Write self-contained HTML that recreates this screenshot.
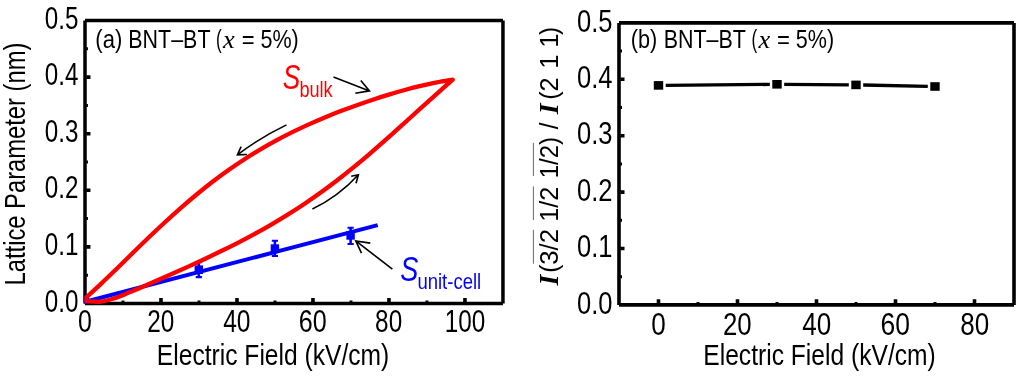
<!DOCTYPE html>
<html><head><meta charset="utf-8"><title>Figure</title>
<style>html,body{margin:0;padding:0;background:#fff;overflow:hidden}svg{display:block;will-change:transform}text{font-family:"Liberation Sans",sans-serif;white-space:pre}.si{font-style:italic}.ti{font-family:"Liberation Serif",serif;font-style:italic}.tbi{font-family:"Liberation Serif",serif;font-style:italic;font-weight:bold}</style>
</head><body>
<svg width="1024" height="377" viewBox="0 0 1024 377">
<rect x="0" y="0" width="1024" height="377" fill="#fff"/>
<g id="left-plot">
<path d="M85.00,20.50 H502.95 M85.00,303.45 H502.95 M85.00,20.50 V303.45 M502.95,20.50 V303.45" fill="none" stroke="#000" stroke-width="3.5"/>
<path d="M160.99,302.20 V297.90 M236.98,302.20 V297.90 M312.97,302.20 V297.90 M388.96,302.20 V297.90 M464.95,302.20 V297.90 M86.25,246.86 H90.45 M86.25,190.27 H90.45 M86.25,133.68 H90.45 M86.25,77.09 H90.45 " fill="none" stroke="#000" stroke-width="3.6"/>
<path d="M123.00,302.20 V300.50 M198.99,302.20 V300.50 M274.98,302.20 V300.50 M350.97,302.20 V300.50 M426.96,302.20 V300.50 M86.25,275.15 H87.95 M86.25,218.56 H87.95 M86.25,161.97 H87.95 M86.25,105.39 H87.95 M86.25,48.79 H87.95 " fill="none" stroke="#000" stroke-width="3.0"/>
<clipPath id="cl"><rect x="84.4" y="0" width="430" height="377"/></clipPath>
<g clip-path="url(#cl)">
<line x1="80.0" y1="303.22" x2="377.7" y2="225.10" stroke="#0000ff" stroke-width="4.0"/>
<rect x="80.8" y="295.2" width="8.4" height="8.4" fill="#0000ff"/>
<path d="M198.8,262.3 V277.1" fill="none" stroke="#0000ff" stroke-width="2.6"/>
<path d="M195.70,262.3 H201.90 M195.70,277.1 H201.90" fill="none" stroke="#0000ff" stroke-width="2.1"/>
<rect x="194.60" y="265.40" width="8.4" height="8.6" fill="#0000ff"/>
<path d="M274.9,240.7 V256.0" fill="none" stroke="#0000ff" stroke-width="2.6"/>
<path d="M271.80,240.7 H278.00 M271.80,256.0 H278.00" fill="none" stroke="#0000ff" stroke-width="2.1"/>
<rect x="270.70" y="244.30" width="8.4" height="8.6" fill="#0000ff"/>
<path d="M350.6,227.7 V244.0" fill="none" stroke="#0000ff" stroke-width="2.6"/>
<path d="M347.50,227.7 H353.70 M347.50,244.0 H353.70" fill="none" stroke="#0000ff" stroke-width="2.1"/>
<rect x="346.40" y="231.10" width="8.4" height="8.6" fill="#0000ff"/>
<path d="M81.60,300.90 C82.17,300.93 83.27,301.00 85.00,301.10 C86.73,301.20 89.33,301.42 92.00,301.50 C94.67,301.58 97.67,302.02 101.00,301.60 C104.33,301.18 108.37,300.08 112.00,299.00 C115.63,297.92 118.25,296.93 122.80,295.13 C127.35,293.33 133.80,290.55 139.29,288.21 C144.79,285.87 150.29,283.49 155.79,281.09 C161.29,278.68 166.79,276.26 172.28,273.80 C177.78,271.35 183.28,268.87 188.78,266.36 C194.28,263.84 199.78,261.31 205.27,258.71 C210.77,256.12 216.27,253.50 221.77,250.81 C227.27,248.11 232.77,245.37 238.26,242.54 C243.76,239.71 249.26,236.82 254.76,233.82 C260.26,230.83 265.76,227.75 271.25,224.55 C276.75,221.35 282.25,218.06 287.75,214.63 C293.25,211.19 298.75,207.65 304.24,203.97 C309.74,200.28 315.24,196.47 320.74,192.52 C326.24,188.56 331.74,184.47 337.23,180.25 C342.73,176.02 348.23,171.66 353.73,167.18 C359.23,162.70 364.73,158.08 370.22,153.37 C375.72,148.67 381.22,143.83 386.72,138.95 C392.22,134.08 397.72,129.08 403.21,124.11 C408.71,119.14 414.21,114.08 419.71,109.12 C425.21,104.15 430.71,99.24 436.20,94.32 C441.70,89.40 449.95,82.05 452.70,79.60 L452.70,79.60 C450.04,80.08 442.04,81.41 436.71,82.47 C431.38,83.53 426.06,84.68 420.73,85.95 C415.40,87.21 410.07,88.60 404.74,90.05 C399.41,91.50 394.08,93.05 388.75,94.66 C383.42,96.27 378.09,97.96 372.77,99.71 C367.44,101.46 362.11,103.28 356.78,105.17 C351.45,107.07 346.12,109.02 340.79,111.07 C335.46,113.11 330.13,115.22 324.80,117.43 C319.48,119.65 314.15,121.94 308.82,124.34 C303.49,126.75 298.16,129.24 292.83,131.87 C287.50,134.49 282.17,137.22 276.84,140.10 C271.51,142.97 266.19,145.97 260.86,149.12 C255.53,152.27 250.20,155.55 244.87,159.00 C239.54,162.45 234.21,166.04 228.88,169.80 C223.55,173.56 218.22,177.48 212.90,181.55 C207.57,185.63 202.24,189.87 196.91,194.25 C191.58,198.63 186.25,203.18 180.92,207.85 C175.59,212.51 170.26,217.34 164.93,222.25 C159.61,227.16 154.28,232.21 148.95,237.31 C143.62,242.40 138.29,247.61 132.96,252.80 C127.63,257.98 122.30,263.26 116.97,268.43 C111.64,273.60 106.32,278.81 100.99,283.83 C95.66,288.85 88.23,295.58 85.00,298.54 C81.77,301.50 82.17,301.09 81.60,301.60" fill="none" stroke="#ff0000" stroke-width="4.3" stroke-linecap="butt" stroke-linejoin="round"/>
</g>
<path d="M333.5,76.9 L369.5,90.9 M360.8,80.5 L369.5,90.9 L355.3,93.3" fill="none" stroke="#000" stroke-width="1.6"/>
<path d="M286.5,124.9 Q259.3,138.0 237.4,154.9 M241.1,146.6 L237.4,154.9 L246.9,154.5" fill="none" stroke="#000" stroke-width="1.6"/>
<path d="M312.4,209 Q338.6,196.3 358.4,174.7 M351.2,176.2 L358.4,174.7 L356,183.3" fill="none" stroke="#000" stroke-width="1.6"/>
<path d="M392.4,269.2 L355.8,240.9 M370.3,243.1 L355.8,240.9 L361.5,253.2" fill="none" stroke="#000" stroke-width="1.6"/>
<text transform="translate(44.73,311.60) scale(0.7857,1)" font-size="30.8">0.0</text>
<text transform="translate(44.73,255.01) scale(0.7857,1)" font-size="30.8">0.1</text>
<text transform="translate(44.73,198.42) scale(0.7857,1)" font-size="30.8">0.2</text>
<text transform="translate(44.73,141.83) scale(0.7857,1)" font-size="30.8">0.3</text>
<text transform="translate(44.73,85.24) scale(0.7857,1)" font-size="30.8">0.4</text>
<text transform="translate(44.73,28.65) scale(0.7857,1)" font-size="30.8">0.5</text>
<text transform="translate(78.10,331.85) scale(0.8091,1)" font-size="30.8" fill="#000" >0</text>
<text transform="translate(147.13,331.85) scale(0.7907,1)" font-size="30.8" fill="#000" >20</text>
<text transform="translate(223.15,331.85) scale(0.7978,1)" font-size="30.8" fill="#000" >40</text>
<text transform="translate(298.70,331.85) scale(0.8145,1)" font-size="30.8" fill="#000" >60</text>
<text transform="translate(375.12,331.85) scale(0.7896,1)" font-size="30.8" fill="#000" >80</text>
<text transform="translate(444.68,331.85) scale(0.7892,1)" font-size="30.8" fill="#000" >100</text>
<text transform="translate(156.87,365.30) scale(0.8343,1)" font-size="29.5" fill="#000" >Electric Field (kV/cm)</text>
<text transform="translate(25.20,285.46) rotate(-90) scale(0.7920,1)" font-size="30" fill="#000" >Lattice Parameter (nm)</text>
<text transform="translate(95.32,47.70) scale(0.8647,1)" font-size="25.5" fill="#000" >(a)</text>
<text transform="translate(128.33,47.70) scale(0.8406,1)" font-size="25.5" fill="#000" >BNT–BT</text>
<text transform="translate(216.03,47.70) scale(0.6723,1)" font-size="25.5" fill="#000" >(</text>
<text transform="translate(223.03,47.70) scale(1.0370,1)" font-size="25.5" fill="#000" class="ti">x</text>
<text transform="translate(241.70,47.70) scale(0.8652,1)" font-size="25.5" fill="#000" >=</text>
<text transform="translate(260.44,47.70) scale(0.8452,1)" font-size="25.5" fill="#000" >5%)</text>
<text transform="translate(282.68,88.80) scale(0.7666,1)" font-size="34.3" fill="#ff0000" class="si">S</text>
<text transform="translate(299.42,97.10) scale(0.8243,1)" font-size="22" fill="#ff0000" >bulk</text>
<text transform="translate(400.15,281.00) scale(0.7898,1)" font-size="34.3" fill="#0000ff" class="si">S</text>
<text transform="translate(417.40,288.70) scale(0.8419,1)" font-size="22" fill="#0000ff" >unit-cell</text>
</g>
<g id="right-plot">
<line x1="665.70" y1="85.33" x2="769.80" y2="84.37" stroke="#000" stroke-width="3.4"/>
<line x1="784.20" y1="84.35" x2="848.80" y2="84.85" stroke="#000" stroke-width="3.4"/>
<line x1="863.20" y1="85.05" x2="927.80" y2="86.35" stroke="#000" stroke-width="3.4"/>
<rect x="653.80" y="81.10" width="9.4" height="8.6" fill="#000"/>
<rect x="772.30" y="80.00" width="9.4" height="8.6" fill="#000"/>
<rect x="851.30" y="80.60" width="9.4" height="8.6" fill="#000"/>
<rect x="930.30" y="82.20" width="9.4" height="8.6" fill="#000"/>
<path d="M619.00,22.90 H1014.00 M619.00,304.90 H1014.00 M619.00,22.90 V304.90 M1014.00,22.90 V304.90" fill="none" stroke="#000" stroke-width="3.6"/>
<path d="M658.50,303.60 V299.30 M737.50,303.60 V299.30 M816.50,303.60 V299.30 M895.50,303.60 V299.30 M974.50,303.60 V299.30 M620.30,248.50 H624.50 M620.30,192.10 H624.50 M620.30,135.70 H624.50 M620.30,79.30 H624.50 " fill="none" stroke="#000" stroke-width="3.6"/>
<path d="M698.00,303.60 V301.90 M777.00,303.60 V301.90 M856.00,303.60 V301.90 M935.00,303.60 V301.90 M620.30,276.70 H622.00 M620.30,220.30 H622.00 M620.30,163.90 H622.00 M620.30,107.50 H622.00 M620.30,51.10 H622.00 " fill="none" stroke="#000" stroke-width="3.0"/>
<text transform="translate(577.08,313.50) scale(0.8210,1)" font-size="31.1">0.0</text>
<text transform="translate(577.08,257.10) scale(0.8210,1)" font-size="31.1">0.1</text>
<text transform="translate(577.08,200.70) scale(0.8210,1)" font-size="31.1">0.2</text>
<text transform="translate(577.08,144.30) scale(0.8210,1)" font-size="31.1">0.3</text>
<text transform="translate(577.08,87.90) scale(0.8210,1)" font-size="31.1">0.4</text>
<text transform="translate(577.08,31.50) scale(0.8210,1)" font-size="31.1">0.5</text>
<text transform="translate(651.36,334.70) scale(0.8384,1)" font-size="31.1" fill="#000" >0</text>
<text transform="translate(723.01,334.70) scale(0.8302,1)" font-size="31.1" fill="#000" >20</text>
<text transform="translate(802.21,334.70) scale(0.8375,1)" font-size="31.1" fill="#000" >40</text>
<text transform="translate(880.62,334.70) scale(0.8522,1)" font-size="31.1" fill="#000" >60</text>
<text transform="translate(960.19,334.70) scale(0.8366,1)" font-size="31.1" fill="#000" >80</text>
<text transform="translate(703.27,365.30) scale(0.8351,1)" font-size="29.5" fill="#000" >Electric Field (kV/cm)</text>
<text transform="translate(630.84,47.70) scale(0.8504,1)" font-size="25.5" fill="#000" >(b)</text>
<text transform="translate(663.73,47.70) scale(0.8406,1)" font-size="25.5" fill="#000" >BNT–BT</text>
<text transform="translate(751.43,47.70) scale(0.6723,1)" font-size="25.5" fill="#000" >(</text>
<text transform="translate(758.43,47.70) scale(1.0370,1)" font-size="25.5" fill="#000" class="ti">x</text>
<text transform="translate(777.10,47.70) scale(0.8652,1)" font-size="25.5" fill="#000" >=</text>
<text transform="translate(795.84,47.70) scale(0.8452,1)" font-size="25.5" fill="#000" >5%)</text>
<text transform="translate(557.90,285.52) rotate(-90) scale(0.9942,1)" font-size="28" fill="#000" class="tbi">I</text>
<text transform="translate(557.90,272.82) rotate(-90) scale(0.9200,1)" font-size="26.5" fill="#000" >(</text>
<text transform="translate(557.90,264.66) rotate(-90) scale(0.9677,1)" font-size="26.5" fill="#000" >3/2</text>
<text transform="translate(557.90,221.69) rotate(-90) scale(0.9486,1)" font-size="26.5" fill="#000" >1/2</text>
<text transform="translate(557.90,178.30) rotate(-90) scale(0.9047,1)" font-size="26.5" fill="#000" >1/2)</text>
<text transform="translate(557.90,129.20) rotate(-90) scale(0.9111,1)" font-size="26.5" fill="#000" >/</text>
<text transform="translate(557.90,114.32) rotate(-90) scale(0.9942,1)" font-size="28" fill="#000" class="tbi">I</text>
<text transform="translate(557.90,99.87) rotate(-90) scale(0.9495,1)" font-size="26.5" fill="#000" >(2</text>
<text transform="translate(557.90,68.85) rotate(-90) scale(0.96,1)" font-size="26.5">1</text>
<text transform="translate(557.90,47.85) rotate(-90) scale(0.96,1)" font-size="26.5">1</text>
<text transform="translate(557.90,35.08) rotate(-90) scale(0.9057,1)" font-size="26.5" fill="#000" >)</text>
<line x1="533.4" y1="229.8" x2="533.4" y2="263.7" stroke="#666" stroke-width="1"/>
<line x1="533.4" y1="186.4" x2="533.4" y2="220.0" stroke="#666" stroke-width="1"/>
<line x1="533.4" y1="142.9" x2="533.4" y2="176.1" stroke="#666" stroke-width="1"/>
</g>
</svg>
</body></html>
